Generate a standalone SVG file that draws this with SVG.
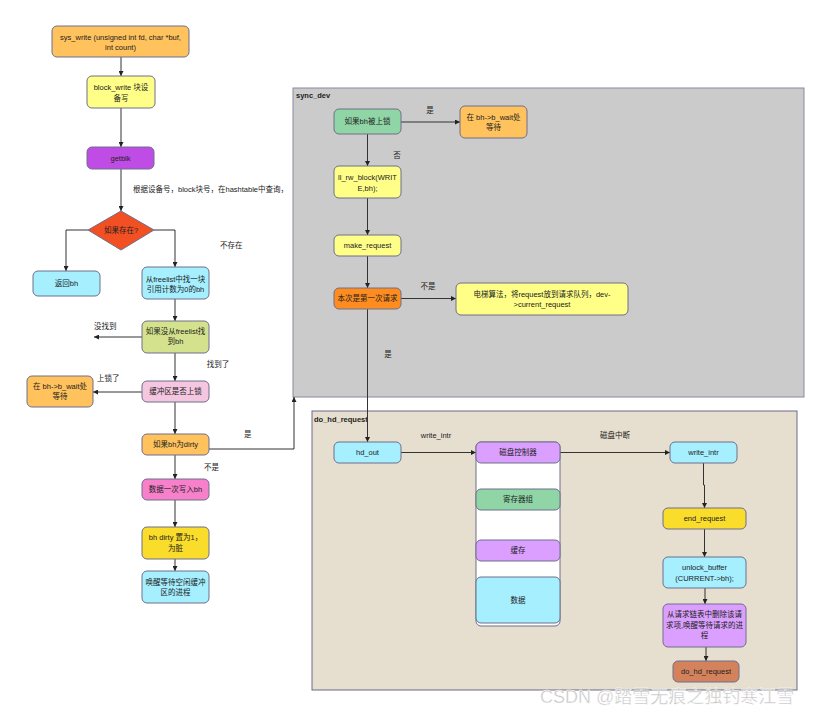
<svg xmlns="http://www.w3.org/2000/svg" width="830" height="716" viewBox="0 0 830 716">
<style>
text{font-family:"Liberation Sans","Noto Sans CJK SC",sans-serif;font-size:7.5px;fill:#222}
.c{text-anchor:middle}
.b{font-weight:bold}
.n{stroke:#6e6e8c;stroke-width:1}
.e{fill:none;stroke:#333;stroke-width:1}
.wm{font-size:18px;fill:#c4c4c4;stroke:#fff;stroke-width:0.4}
</style>
<defs>
<marker id="a" viewBox="0 0 10 10" refX="10" refY="5" markerWidth="5" markerHeight="5" markerUnits="userSpaceOnUse" orient="auto">
<path d="M0,0 L10,5 L0,10 z" fill="#222"/>
</marker>
</defs>
<rect width="830" height="716" fill="#fff"/>

<g id="sync_dev">
<rect x="293" y="88" width="511" height="309" fill="#cbcbcb" stroke="#8a8aa0"/>
<text x="296" y="98.4" class="b">sync_dev</text>
</g>
<g id="do_hd_request_group">
<rect x="312" y="411" width="485" height="279" fill="#e6decf" stroke="#6a6a8a"/>
<text x="314" y="422" class="b">do_hd_request</text>
</g>

<g id="connectors">
<path class="e" d="M121,57 V76" marker-end="url(#a)"/>
<path class="e" d="M121,108 V147" marker-end="url(#a)"/>
<path class="e" d="M121,169 V211" marker-end="url(#a)"/>
<path class="e" d="M88,230 H66 V271" marker-end="url(#a)"/>
<path class="e" d="M154,230 H175 V267" marker-end="url(#a)"/>
<path class="e" d="M175,299 V321" marker-end="url(#a)"/>
<path class="e" d="M142,337 H94" marker-end="url(#a)"/>
<path class="e" d="M175,353 V381" marker-end="url(#a)"/>
<path class="e" d="M142,392 H93" marker-end="url(#a)"/>
<path class="e" d="M175,402 V434" marker-end="url(#a)"/>
<path class="e" d="M209,449 H294 V397" marker-end="url(#a)"/>
<path class="e" d="M175,455 V479" marker-end="url(#a)"/>
<path class="e" d="M175,500 V527" marker-end="url(#a)"/>
<path class="e" d="M175,559 V571" marker-end="url(#a)"/>
<path class="e" d="M401,122 H460" marker-end="url(#a)"/>
<path class="e" d="M367.5,134 V166" marker-end="url(#a)"/>
<path class="e" d="M367.5,198 V235" marker-end="url(#a)"/>
<path class="e" d="M367.5,256 V288" marker-end="url(#a)"/>
<path class="e" d="M401,298.5 H456" marker-end="url(#a)"/>
<path class="e" d="M367.5,309 V442" marker-end="url(#a)"/>
<path class="e" d="M401,452.5 H476" marker-end="url(#a)"/>
<path class="e" d="M560,452.5 H670" marker-end="url(#a)"/>
<path class="e" d="M703.5,463 V485 H704.5 V508" marker-end="url(#a)"/>
<path class="e" d="M704.5,529 V557" marker-end="url(#a)"/>
<path class="e" d="M705,588 V604" marker-end="url(#a)"/>
<path class="e" d="M706,647 V661" marker-end="url(#a)"/>
<text x="133" y="191.7">根据设备号，block块号，在hashtable中查询，</text>
<text x="220" y="248.4">不存在</text>
<text x="94" y="328.7">没找到</text>
<text x="206.7" y="366.7">找到了</text>
<text x="97" y="380.7">上锁了</text>
<text x="247.7" y="436.7" class="c">是</text>
<text x="211.5" y="470.4" class="c">不是</text>
<text x="430" y="112.7" class="c">是</text>
<text x="397" y="157.7" class="c">否</text>
<text x="428" y="289.4" class="c">不是</text>
<text x="388" y="356.7" class="c">是</text>
<text x="436" y="437.7" class="c">write_intr</text>
<text x="615" y="437.7" class="c">磁盘中断</text>
</g>

<g id="n_sys_write">
<rect class="n" x="52" y="26" width="137" height="31" rx="5" fill="#ffc25c"/>
<text x="120.5" y="39.5" class="c">sys_write (unsigned int fd, char *buf,</text>
<text x="120.5" y="50" class="c">int count)</text>
</g>
<g id="n_block_write">
<rect class="n" x="87" y="76" width="68" height="32" rx="5" fill="#ffff88"/>
<text x="121" y="89.5" class="c">block_write 块设</text>
<text x="121" y="100.5" class="c">备写</text>
</g>
<g id="n_getblk">
<rect class="n" x="87" y="147" width="67" height="22" rx="5" fill="#c04ce6"/>
<text x="120.5" y="160.7" class="c">getblk</text>
</g>
<g id="n_exists">
<path class="n" d="M121,211 L154,230 L121,250 L88,230 Z" fill="#f25022"/>
<text x="121" y="232.7" class="c">如果存在?</text>
</g>
<g id="n_return_bh">
<rect class="n" x="33" y="271" width="67" height="25" rx="5" fill="#a5efff"/>
<text x="66.5" y="286" class="c">返回bh</text>
</g>
<g id="n_freelist">
<rect class="n" x="142" y="267" width="67" height="32" rx="5" fill="#a5efff"/>
<text x="175.5" y="281.7" class="c">从freelist中找一块</text>
<text x="175.5" y="292" class="c">引用计数为0的bh</text>
</g>
<g id="n_not_found">
<rect class="n" x="142" y="321" width="67" height="32" rx="5" fill="#d5e28d"/>
<text x="175.5" y="333.7" class="c">如果没从freelist找</text>
<text x="175.5" y="344.4" class="c">到bh</text>
</g>
<g id="n_locked">
<rect class="n" x="142" y="381" width="67" height="21" rx="5" fill="#f4c6e0"/>
<text x="175.5" y="394.2" class="c">缓冲区是否上锁</text>
</g>
<g id="n_wait_left">
<rect class="n" x="27" y="376" width="66" height="31" rx="5" fill="#ffc25c"/>
<text x="60" y="388.7" class="c">在 bh-&gt;b_wait处</text>
<text x="60" y="399.4" class="c">等待</text>
</g>
<g id="n_dirty">
<rect class="n" x="142" y="434" width="67" height="21" rx="5" fill="#ffc25c"/>
<text x="175.5" y="447.2" class="c">如果bh为dirty</text>
</g>
<g id="n_write_bh">
<rect class="n" x="142" y="479" width="67" height="21" rx="5" fill="#f780ca"/>
<text x="175.5" y="492.2" class="c">数据一次写入bh</text>
</g>
<g id="n_set_dirty">
<rect class="n" x="142" y="527" width="67" height="32" rx="5" fill="#fadc2b"/>
<text x="175.5" y="540.4" class="c">bh dirty 置为1，</text>
<text x="175.5" y="551" class="c">为脏</text>
</g>
<g id="n_wake">
<rect class="n" x="142" y="571" width="67" height="32" rx="5" fill="#a5efff"/>
<text x="175.5" y="585" class="c">唤醒等待空闲缓冲</text>
<text x="175.5" y="595.4" class="c">区的进程</text>
</g>

<g id="n_bh_locked">
<rect class="n" x="334" y="109" width="67" height="25" rx="5" fill="#8fd5a5"/>
<text x="367.5" y="124.2" class="c">如果bh被上锁</text>
</g>
<g id="n_wait_right">
<rect class="n" x="460" y="106" width="67" height="32" rx="5" fill="#ffc25c"/>
<text x="493.5" y="120" class="c">在 bh-&gt;b_wait处</text>
<text x="493.5" y="130" class="c">等待</text>
</g>
<g id="n_ll_rw_block">
<rect class="n" x="334" y="166" width="67" height="32" rx="5" fill="#ffff88"/>
<text x="367.5" y="180.4" class="c">ll_rw_block(WRIT</text>
<text x="367.5" y="191" class="c">E,bh);</text>
</g>
<g id="n_make_request">
<rect class="n" x="334" y="235" width="67" height="21" rx="5" fill="#ffff88"/>
<text x="367.5" y="248.2" class="c">make_request</text>
</g>
<g id="n_first_request">
<rect class="n" x="334" y="288" width="67" height="21" rx="5" fill="#ff8c1e"/>
<text x="367.5" y="301.2" class="c">本次是第一次请求</text>
</g>
<g id="n_elevator">
<rect class="n" x="456" y="283" width="172" height="32" rx="5" fill="#ffff88"/>
<text x="542" y="296.7" class="c">电梯算法，将request放到请求队列，dev-</text>
<text x="542" y="306.7" class="c">&gt;current_request</text>
</g>

<g id="n_hd_out">
<rect class="n" x="334" y="442" width="67" height="21" rx="5" fill="#a5efff"/>
<text x="367.5" y="455.2" class="c">hd_out</text>
</g>
<g id="n_disk_controller">
<rect class="n" x="476" y="442" width="84" height="184" rx="5" fill="#fff"/>
<rect class="n" x="476" y="442" width="84" height="21" rx="5" fill="#dba0ff"/>
<text x="518" y="455.2" class="c">磁盘控制器</text>
<rect class="n" x="476" y="489" width="84" height="21" rx="5" fill="#8fd5a5"/>
<text x="518" y="502.2" class="c">寄存器组</text>
<rect class="n" x="476" y="540" width="84" height="21" rx="5" fill="#dba0ff"/>
<text x="518" y="553.2" class="c">缓存</text>
<rect class="n" x="476" y="577" width="84" height="46" rx="5" fill="#a5efff"/>
<text x="518" y="602.7" class="c">数据</text>
</g>
<g id="n_write_intr">
<rect class="n" x="670" y="442" width="67" height="21" rx="5" fill="#a5efff"/>
<text x="703.5" y="455.2" class="c">write_intr</text>
</g>
<g id="n_end_request">
<rect class="n" x="663" y="508" width="83" height="21" rx="5" fill="#fadc2b"/>
<text x="704.5" y="521.2" class="c">end_request</text>
</g>
<g id="n_unlock_buffer">
<rect class="n" x="663" y="557" width="83" height="31" rx="5" fill="#a5efff"/>
<text x="704.5" y="570.4" class="c">unlock_buffer</text>
<text x="704.5" y="581" class="c">(CURRENT-&gt;bh);</text>
</g>
<g id="n_remove">
<rect class="n" x="663" y="604" width="83" height="43" rx="5" fill="#dba0ff"/>
<text x="704.5" y="616.7" class="c">从请求链表中删除该请</text>
<text x="704.5" y="627.7" class="c">求项,唤醒等待请求的进</text>
<text x="704.5" y="638.4" class="c">程</text>
</g>
<g id="n_do_hd_request">
<rect class="n" x="673" y="661" width="66" height="21" rx="5" fill="#d4825c"/>
<text x="706" y="674.2" class="c">do_hd_request</text>
</g>

<text x="540" y="703" class="wm">CSDN @踏雪无痕之独钓寒江雪</text>
</svg>
